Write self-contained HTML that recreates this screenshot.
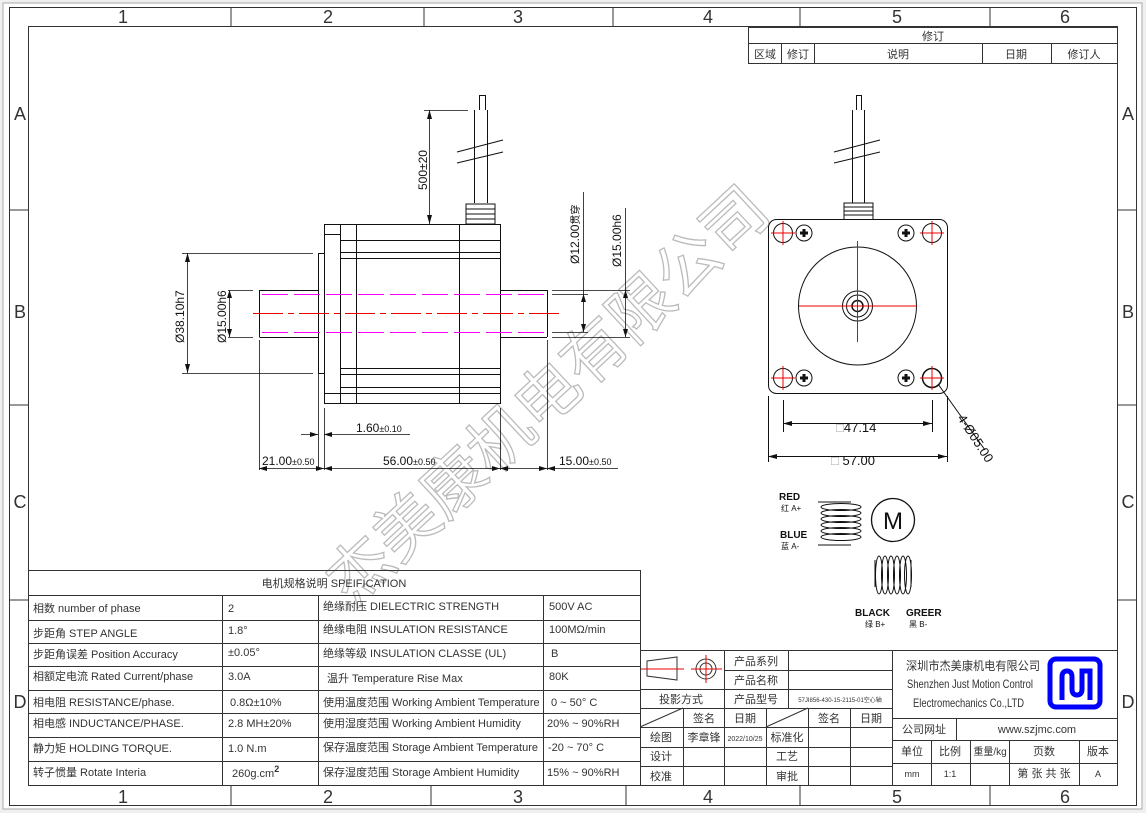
<!DOCTYPE html>
<html><head><meta charset="utf-8"><style>
html,body{margin:0;padding:0;background:#f0f0f0;}
svg{display:block;font-family:"Liberation Sans","Noto Sans CJK SC",sans-serif;}
.n{font-family:"Liberation Sans Narrow","Liberation Sans","Noto Sans CJK SC",sans-serif;}
</style></head><body>
<svg width="1146" height="813" viewBox="0 0 1146 813" xmlns="http://www.w3.org/2000/svg">
<rect x="3" y="3" width="1139" height="806" fill="#fff" stroke="#aaa"/>
<g fill="none" stroke="#333" stroke-width="1">
<rect x="9.5" y="7.5" width="1127" height="798"/>
<rect x="28.5" y="26.5" width="1089" height="759"/>
<path d="M231 7v19M424 7v19M613 7v19M800 7v19M990 7v19M231 785v20M431 785v20M626 785v20M800 785v20M990 785v20M9 210h19M9 405h19M9 600h19M1117 210h19M1117 405h19M1117 600h19"/>
</g>
<g font-size="18" fill="#333" text-anchor="middle">
<text x="123" y="23">1</text><text x="328" y="23">2</text><text x="518" y="23">3</text><text x="708" y="23">4</text><text x="897" y="23">5</text><text x="1065" y="23">6</text>
<text x="123" y="803">1</text><text x="328" y="803">2</text><text x="518" y="803">3</text><text x="708" y="803">4</text><text x="897" y="803">5</text><text x="1065" y="803">6</text>
<text x="20" y="120">A</text><text x="20" y="318">B</text><text x="20" y="508">C</text><text x="20" y="708">D</text>
<text x="1128" y="120">A</text><text x="1128" y="318">B</text><text x="1128" y="508">C</text><text x="1128" y="708">D</text>
</g>
<!-- revision block -->
<g fill="none" stroke="#333"><rect x="748.5" y="27.5" width="369" height="36"/><path d="M748 43.5h370M781.5 43v20M814.5 43v20M982.5 43v20M1051.5 43v20"/></g>
<g font-size="11" fill="#333" text-anchor="middle"><text x="933" y="40">修订</text><text x="765" y="58">区域</text><text x="798" y="58">修订</text><text x="898" y="58">说明</text><text x="1016" y="58">日期</text><text x="1084" y="58">修订人</text></g>

<!-- watermark -->
<text x="0" y="0" font-size="64" fill="none" stroke="#bbb" stroke-width="1.3" font-family="'Noto Sans CJK SC',sans-serif" transform="translate(352,608) rotate(-43)">杰美康机电有限公司</text>

<!-- side view -->
<g fill="none" stroke="#111" stroke-width="1">
<rect x="324.5" y="224.5" width="176" height="179"/>
<path d="M340.5 224v179M356.5 224v179M459.5 224v179"/>
<path d="M340 252.5h160M340 258.5h160M340 240.5h160M324 234.5h16M340 368.5h160M340 374.5h160M340 387.5h160M340 393.5h160M324 393.5h16"/>
<rect x="318.5" y="253.5" width="6" height="120"/>
<path d="M259.5 290.5h59M259.5 337.5h59M259.5 290v47M500 290.5h47M500 337.5h47M547.5 290v47"/>
<path d="M474.5 203V110M487.5 203V110M479.5 110V95M485.5 110V95M479 95.5h6"/>
<path d="M457 152L503 140M457 163L503 152" />
<path d="M465.5 204h30M465.5 209h30M465.5 214h30M465.5 219h30M465.5 224h30M466 204v20M495 204v20"/>
</g>
<g stroke="#f0f" stroke-width="1" stroke-dasharray="26,6"><path d="M262 294.5h285M262 332.5h285"/></g>
<path d="M253 313.5h307" stroke="#e00" stroke-dasharray="30,5,6,5"/>
<!-- dims side -->
<g fill="none" stroke="#111" stroke-width="0.8">
<path d="M424 110.5h44M429.5 110v114M182 253.5h131M182 373.5h131M187.5 253v120M228 290.5h25M228 337.5h25M229.5 290v47M552 294.5h36M552 332.5h36M583.5 192v140M552 290.5h78M552 337.5h78M625.5 208v129"/>
<path d="M318.5 345v125M324.5 408v62M500.5 408v62M547.5 340v130M259.5 340v130M301 434.5h17M324 434.5h86M259 468.5h359"/>
</g>
<g fill="#111">
<path d="M429.5 110l-2.5 9h5zM429.5 224l-2.5-9h5zM187.5 253l-2.5 9h5zM187.5 373l-2.5-9h5zM229.5 290l-2.5 8h5zM229.5 337l-2.5-8h5zM583.5 294l-2.5 8h5zM583.5 332l-2.5-8h5zM625.5 290l-2.5 8h5zM625.5 337l-2.5-8h5z"/>
<path d="M318 434.5l-8-2.5v5zM324 434.5l8-2.5v5zM259 468.5l8-2.5v5zM324 468.5l-8-2.5v5zM324 468.5l8-2.5v5zM500 468.5l-8-2.5v5zM500 468.5l8-2.5v5zM547 468.5l-8-2.5v5zM547 468.5l8-2.5v5z"/>
</g>
<g font-size="12" fill="#111">
<text transform="translate(427,190) rotate(-90)">500±20</text>
<text transform="translate(184,343) rotate(-90)">Ø38.10h7</text>
<text transform="translate(226,343) rotate(-90)">Ø15.00h6</text>
<text transform="translate(579,264) rotate(-90)">Ø12.00<tspan font-size="10">贯穿</tspan></text>
<text transform="translate(621,267) rotate(-90)">Ø15.00h6</text>
<text x="356" y="432">1.60<tspan font-size="9">±0.10</tspan></text>
<text x="262" y="465">21.00<tspan font-size="9">±0.50</tspan></text>
<text x="383" y="465">56.00<tspan font-size="9">±0.50</tspan></text>
<text x="559" y="465">15.00<tspan font-size="9">±0.50</tspan></text>
</g>

<!-- front view -->
<g fill="none" stroke="#111" stroke-width="1">
<rect x="768.5" y="219.5" width="179" height="174" rx="8"/>
<circle cx="857.5" cy="306" r="59"/>
<circle cx="857.5" cy="306" r="15"/><circle cx="857.5" cy="306" r="11"/><circle cx="857.5" cy="306" r="5.5" stroke-width="1.5"/>
<circle cx="783" cy="233" r="9.5"/><circle cx="932" cy="233" r="9.5"/><circle cx="783" cy="378" r="9.5"/><circle cx="932" cy="378" r="9.5" stroke-width="1.5"/>
<circle cx="804" cy="233" r="8"/><circle cx="906" cy="233" r="8"/><circle cx="804" cy="378" r="8"/><circle cx="906" cy="378" r="8"/>
<path d="M800 233h8M804 229v8M902 233h8M906 229v8M800 378h8M804 374v8M902 378h8M906 374v8" stroke-width="3"/>
<path d="M852.5 203V110M864.5 203V110M856.5 110V95M861.5 110V95M856 95.5h6M834 152L880 140M834 163L880 152"/>
<path d="M843.5 203h30M843.5 207h30M843.5 211h30M843.5 215h30M844 203v16M873 203v16"/>
<path d="M783.5 400v32M932.5 400v32M768.5 396v66M947.5 396v66M783 423.5h149M768 456.5h179M938 384L985 450"/>
</g>
<g stroke="#e00" stroke-width="1"><path d="M857.5 241v101M799 306h118M771 233h24M783 221v24M920 233h24M932 221v24M771 378h24M783 366v24M920 378h24M932 366v24"/></g>
<g fill="#111"><path d="M783 423.5l9-2.5v5zM932 423.5l-9-2.5v5zM768 456.5l9-2.5v5zM947 456.5l-9-2.5v5z"/></g>
<g font-size="13" fill="#111">
<text x="836" y="432"><tspan fill="#aaa">□</tspan>47.14</text>
<text x="831" y="465"><tspan fill="#aaa">□</tspan> 57.00</text>
<text transform="translate(957,418) rotate(57)">4-Ø05.00</text>
</g>
<!-- wiring -->
<g fill="none" stroke="#111" stroke-width="1">
<path d="M818 502h33M818 545h33"/>
<ellipse cx="841" cy="507" rx="20" ry="3.5"/><ellipse cx="841" cy="513" rx="20" ry="3.5"/><ellipse cx="841" cy="519" rx="20" ry="3.5"/><ellipse cx="841" cy="525" rx="20" ry="3.5"/><ellipse cx="841" cy="531" rx="20" ry="3.5"/><ellipse cx="841" cy="537" rx="20" ry="3.5"/>
<circle cx="893" cy="520" r="21.5" stroke-width="1.3"/>
<path d="M875 560v27M911 560v27"/>
<ellipse cx="879" cy="575" rx="3.5" ry="19"/><ellipse cx="885" cy="575" rx="3.5" ry="19"/><ellipse cx="891" cy="575" rx="3.5" ry="19"/><ellipse cx="897" cy="575" rx="3.5" ry="19"/><ellipse cx="903" cy="575" rx="3.5" ry="19"/><ellipse cx="908" cy="575" rx="3.5" ry="19"/>
</g>
<text x="893" y="529" font-size="24" text-anchor="middle" fill="#111">M</text>
<g class="n" fill="#111" font-size="10">
<text x="779" y="500" font-weight="bold">RED</text><text x="781" y="511" font-size="8">红 A+</text>
<text x="780" y="538" font-weight="bold">BLUE</text><text x="781" y="549" font-size="8">蓝 A-</text>
<text x="855" y="616" font-weight="bold">BLACK</text><text x="865" y="627" font-size="8">绿 B+</text>
<text x="906" y="616" font-weight="bold">GREER</text><text x="909" y="627" font-size="8">黑 B-</text>
</g>

<!-- spec table -->
<g fill="none" stroke="#333"><rect x="28.5" y="570.5" width="612" height="215"/>
<path d="M28 595.5h612M28 620.5h612M28 643.5h612M28 666.5h612M28 690.5h612M28 713.5h612M28 737.5h612M28 761.5h612M222.5 595v190M318.5 595v190M543.5 595v190"/></g>
<g class="n" font-size="11" fill="#333">
<text x="334" y="587" text-anchor="middle">电机规格说明 SPEIFICATION</text>
<text x="33" y="612">相数 number of phase</text><text x="228" y="612">2</text><text x="323" y="610">绝缘耐压 DIELECTRIC STRENGTH</text><text x="549" y="610">500V AC</text>
<text x="33" y="637">步距角 STEP ANGLE</text><text x="228" y="634">1.8°</text><text x="323" y="633">绝缘电阻 INSULATION RESISTANCE</text><text x="549" y="633">100MΩ/min</text>
<text x="33" y="658">步距角误差 Position Accuracy</text><text x="228" y="656">±0.05°</text><text x="323" y="657">绝缘等级 INSULATION CLASSE (UL)</text><text x="551" y="657">B</text>
<text x="33" y="680">相额定电流 Rated Current/phase</text><text x="228" y="680">3.0A</text><text x="327" y="682">温升 Temperature Rise Max</text><text x="549" y="680">80K</text>
<text x="33" y="706">相电阻 RESISTANCE/phase.</text><text x="230" y="706">0.8Ω±10%</text><text x="323" y="706">使用温度范围 Working Ambient Temperature</text><text x="551" y="706">0 ~ 50° C</text>
<text x="33" y="727">相电感 INDUCTANCE/PHASE.</text><text x="228" y="727">2.8 MH±20%</text><text x="323" y="727">使用湿度范围 Working Ambient Humidity</text><text x="547" y="727">20% ~ 90%RH</text>
<text x="33" y="752">静力矩 HOLDING TORQUE.</text><text x="228" y="752">1.0 N.m</text><text x="323" y="751">保存温度范围 Storage Ambient Temperature</text><text x="548" y="751">-20 ~ 70° C</text>
<text x="33" y="776">转子惯量 Rotate Interia</text><text x="232" y="777">260g.cm<tspan font-size="9" dy="-5" font-weight="bold">2</tspan></text><text x="323" y="776">保存湿度范围 Storage Ambient Humidity</text><text x="547" y="776">15% ~ 90%RH</text>
</g>

<!-- title block -->
<g fill="none" stroke="#333">
<rect x="640.5" y="650.5" width="477" height="135"/>
<path d="M724.5 650v58M788.5 650v58M892.5 650v135M640 689.5h84M724 670.5h168M724 689.5h168M640 708.5h252M640 727.5h252M640 747.5h252M640 766.5h252M683.5 708v77M724.5 708v77M766.5 708v77M808.5 708v77M850.5 708v77M640 727L683 708M766 727L808 708"/>
<path d="M892 718.5h226M892 740.5h226M892 763.5h226M956.5 718v22M931.5 740v45M970.5 740v45M1009.5 740v45M1079.5 740v45"/>
<path d="M647 661L677 657L677 680L647 676Z"/>
<circle cx="706" cy="669" r="10"/><circle cx="706" cy="669" r="6"/>
</g>
<path d="M641 669h43M691 669h31M706 655v28" stroke="#e00"/>
<g font-size="11" fill="#333" text-anchor="middle">
<text x="756" y="665">产品系列</text><text x="756" y="684">产品名称</text><text x="756" y="703">产品型号</text><text x="681" y="703">投影方式</text>
<text x="840" y="702" font-size="6">57JI856-430-15-2115-01空心轴</text>
<text x="704" y="722">签名</text><text x="745" y="722">日期</text><text x="829" y="722">签名</text><text x="871" y="722">日期</text>
<text x="661" y="741">绘图</text><text x="704" y="741">李章锋</text><text x="745" y="741" font-size="7">2022/10/25</text><text x="787" y="741">标准化</text>
<text x="661" y="760">设计</text><text x="787" y="760">工艺</text><text x="661" y="780">校准</text><text x="787" y="780">审批</text>
<text x="924" y="733">公司网址</text><text x="1037" y="733" class="n">www.szjmc.com</text>
<text x="912" y="755">单位</text><text x="950" y="755">比例</text><text x="990" y="755" font-size="10">重量/kg</text><text x="1044" y="755">页数</text><text x="1098" y="755">版本</text>
<text x="912" y="777" font-size="9">mm</text><text x="950" y="777" font-size="9">1:1</text><text x="1044" y="777">第 张 共 张</text><text x="1098" y="777" font-size="9">A</text>
</g>
<g class="n" font-size="12" fill="#333">
<text x="906" y="670" textLength="134" lengthAdjust="spacingAndGlyphs">深圳市杰美康机电有限公司</text>
<text x="907" y="688" textLength="126" lengthAdjust="spacingAndGlyphs">Shenzhen Just Motion Control</text>
<text x="913" y="707" textLength="111" lengthAdjust="spacingAndGlyphs">Electromechanics Co.,LTD</text>
</g>
<rect x="1050" y="659" width="50" height="48" rx="6" fill="none" stroke="#00f" stroke-width="5"/>
<path d="M1062 700V677q0-6 5-6t5 6v12q0 6 5 6t5-6V671h8v29" fill="none" stroke="#00f" stroke-width="5"/>
</svg>
</body></html>
